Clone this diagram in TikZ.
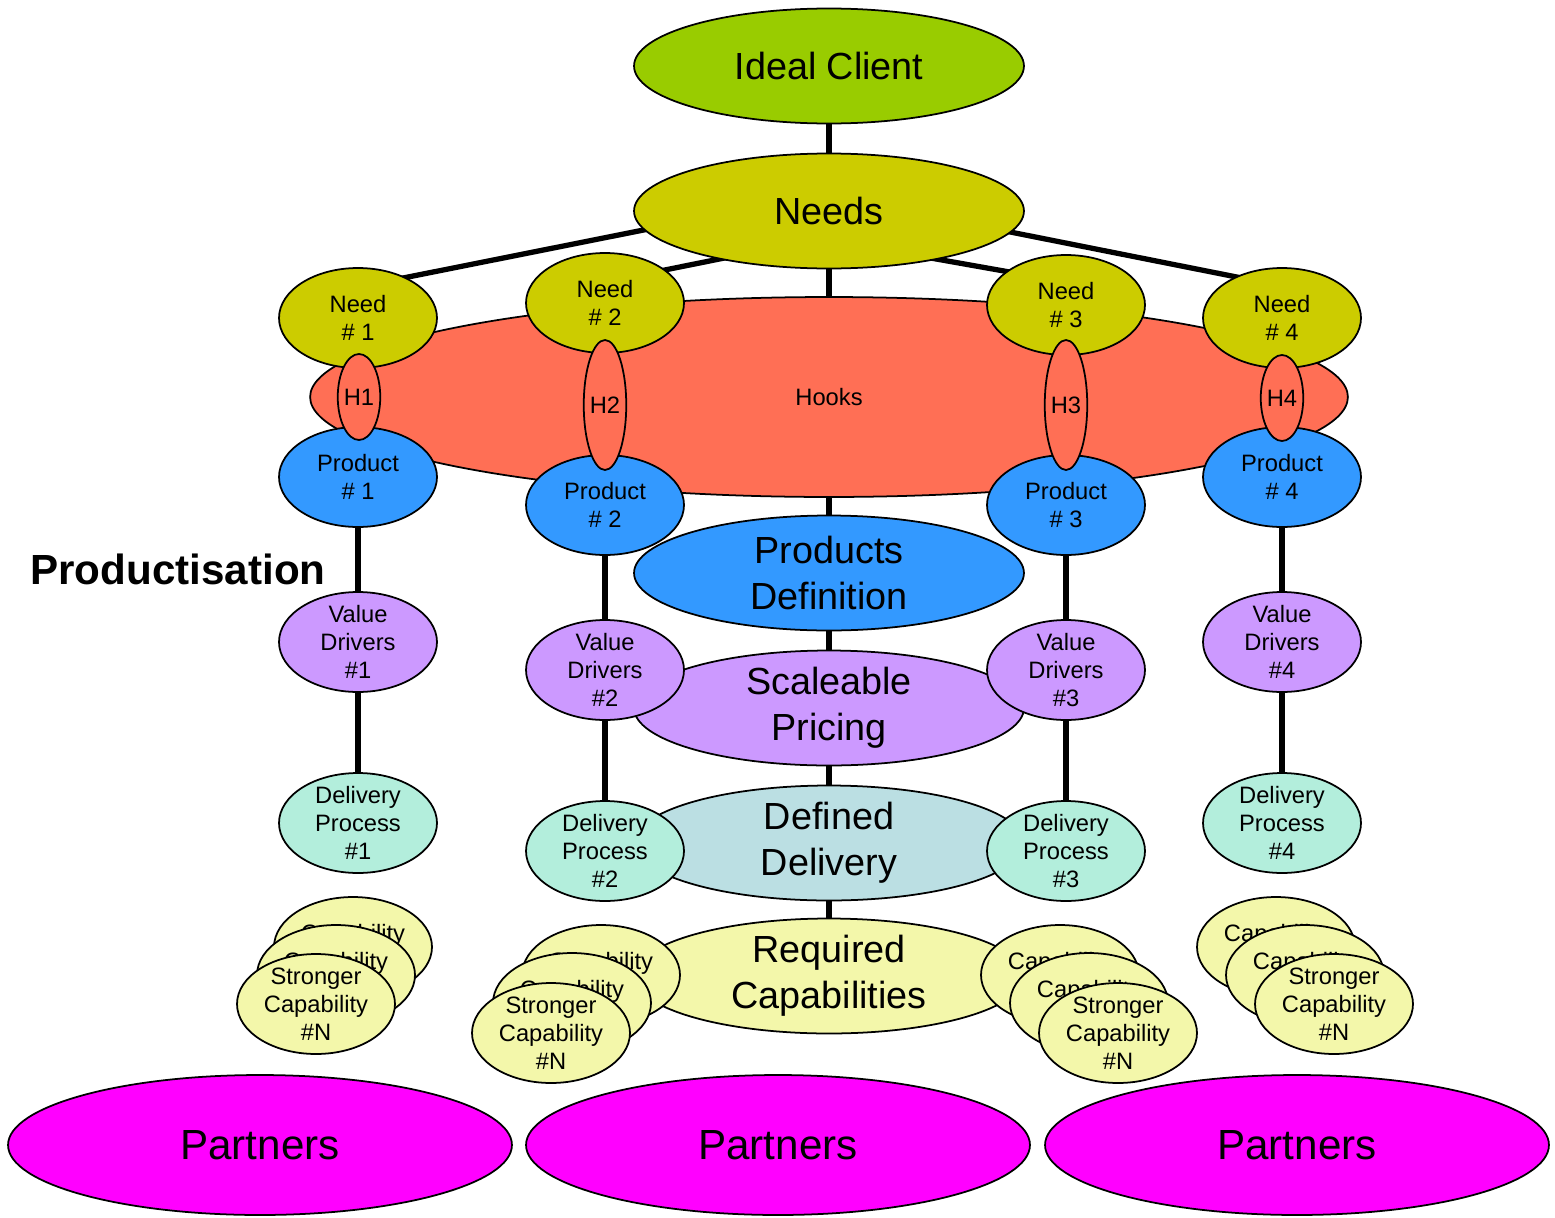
\documentclass[tikz,border=0pt]{standalone}
\usepackage{fontspec}
\setmainfont{Liberation Sans}
\usetikzlibrary{positioning, shapes.geometric, backgrounds, calc}

\definecolor{clientgreen}{HTML}{99CC00}
\definecolor{needolive}{HTML}{CCCC00}
\definecolor{hooksalmon}{HTML}{FF6F55}
\definecolor{prodblue}{HTML}{3399FF}
\definecolor{valuelilac}{HTML}{CC99FF}
\definecolor{delivmint}{HTML}{B3EEDC}
\definecolor{delivgrey}{HTML}{BBDFE3}
\definecolor{capyellow}{HTML}{F3F7AA}
\definecolor{partnerpink}{HTML}{FF00FF}

\begin{document}
\begin{tikzpicture}[
    x=0.02cm, y=-0.02cm,
    oval/.style={ellipse, draw, line width=1pt, inner sep=-1cm, align=center},
    bigoval/.style={oval, minimum width=7.8cm, minimum height=2.3cm, font=\fontsize{21.5}{26}\selectfont},
    smalloval/.style={oval, minimum width=3.16cm, minimum height=2cm, font=\fontsize{13.5}{16}\selectfont},
    needoval/.style={smalloval, fill=needolive},
    productoval/.style={smalloval, fill=prodblue},
    valueoval/.style={smalloval, fill=valuelilac},
    deliveryoval/.style={smalloval, fill=delivmint},
    capoval/.style={smalloval, fill=capyellow},
    hookoval/.style={oval, fill=hooksalmon, minimum width=0.85cm, font=\fontsize{13.5}{16}\selectfont},
    partneroval/.style={oval, fill=partnerpink, minimum width=10.08cm, minimum height=2.8cm, font=\fontsize{24}{29}\selectfont},
    link/.style={line width=3pt},
]
\useasboundingbox (0,0) rectangle (1555,1217);

% Hooks band
\node[oval, fill=hooksalmon, minimum width=20.76cm, minimum height=4cm, font=\fontsize{13.5}{16}\selectfont] (hooks) at (829,397) {Hooks};

% Main spine
\node[bigoval, fill=clientgreen] (client) at (829,66) {Ideal Client};
\node[bigoval, fill=needolive] (needs) at (829,211) {Needs};
\node[bigoval, fill=prodblue] (proddef) at (829,573) {Products\\Definition};
\node[bigoval, fill=valuelilac] (pricing) at (829,708) {Scaleable\\Pricing};
\node[bigoval, fill=delivgrey] (delivery) at (829,843) {Defined\\Delivery};
\node[bigoval, fill=capyellow] (reqcaps) at (829,976) {Required\\Capabilities};

% Product columns
\foreach \i/\x/\ny/\d in {1/358/318/0, 2/605/303/28, 3/1066/305/28, 4/1282/318/0} {
    \node[needoval] (need\i) at (\x,\ny) {Need\\\# \i};
    \node[productoval] (product\i) at (\x,477+\d) {Product\\\# \i};
    \node[valueoval] (value\i) at (\x,642+\d) {Value\\Drivers\\\#\i};
    \node[deliveryoval] (process\i) at (\x,823+\d) {Delivery\\Process\\\#\i};
}

% Hooks per column
\foreach \i/\x/\y/\h in {1/359/397/1.72, 2/605/405/2.6, 3/1066/405/2.6, 4/1282/398/1.72} {
    \node[hookoval, minimum height=\h cm] (hook\i) at (\x,\y) {H\i};
}

% Capability stacks
\foreach \i/\bx/\by/\mx/\my/\fx/\fy in {1/353/947/336/975/316/1004, 2/601/975/572/1003/551/1033,
                                        3/1060/975/1089/1003/1118/1033, 4/1276/947/1305/975/1334/1004} {
    \node[capoval] (cap\i-back) at (\bx,\by) {Capability\\\phantom{\#1}};
    \node[capoval] (cap\i-mid) at (\mx,\my) {Capability\\\phantom{\#2}};
    \node[capoval] (cap\i-front) at (\fx,\fy) {Stronger\\Capability\\\#N};
}

% Partners
\node[partneroval] (partners1) at (260,1145) {Partners};
\node[partneroval] (partners2) at (778,1145) {Partners};
\node[partneroval] (partners3) at (1297,1145) {Partners};

\node[font=\bfseries\fontsize{24}{29}\selectfont] (productisation) at (178,569) {Productisation};

% Connectors behind the ovals
\begin{scope}[on background layer]
    \draw[link] (client) -- (reqcaps);
    \draw[link] ($(need1)+(0,-31)$) -- ($(needs)+(0,-18)$);
    \draw[link] ($(need2)+(0,-21)$) -- ($(needs)+(0,26)$);
    \draw[link] ($(need3)+(0,-23)$) -- ($(needs)+(0,29)$);
    \draw[link] ($(need4)+(0,-32)$) -- ($(needs)+(0,-15)$);
    \foreach \i in {1,...,4}
        \draw[link] (product\i) -- (process\i);
\end{scope}

\end{tikzpicture}
\end{document}
